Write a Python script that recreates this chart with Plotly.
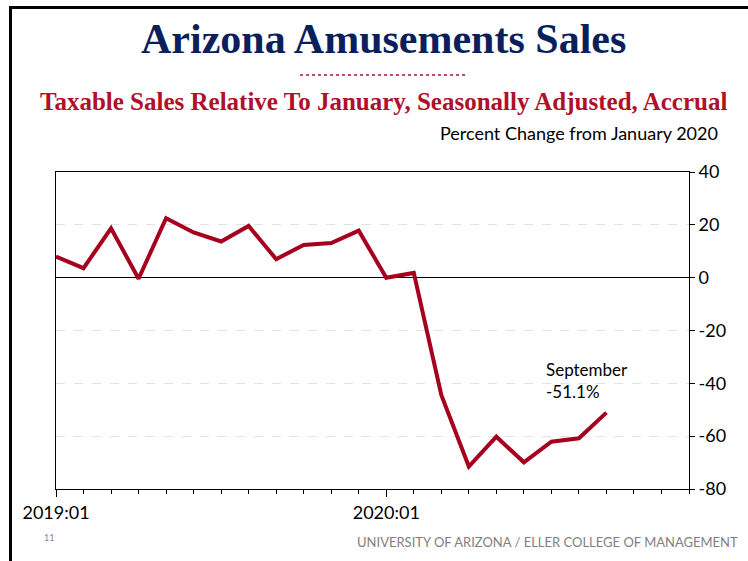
import plotly.graph_objects as go

# ---- data ----
months = ["2019:01", "2019:02", "2019:03", "2019:04", "2019:05", "2019:06",
          "2019:07", "2019:08", "2019:09", "2019:10", "2019:11", "2019:12",
          "2020:01", "2020:02", "2020:03", "2020:04", "2020:05", "2020:06",
          "2020:07", "2020:08", "2020:09"]
pct_change = [8.0, 3.6, 18.7, -0.4, 22.5, 17.1, 13.7, 19.6, 7.0, 12.4, 13.1, 17.8,
              0.0, 1.8, -44.4, -71.5, -60.2, -69.9, -62.1, -60.8, -51.1]
tick_labels = ["2019:01", "2020:01"]
y_ticks = [40, 20, 0, -20, -40, -60, -80]
y_tick_text = ["40", "20", "0", "-20", "-40", "-60", "-80"]

W, H = 748, 561
L, R, T, B = 56, 689, 172, 489  # plot area in pixels


def px(x):
    return (x - L) / (R - L)


def py(y):
    return (B - y) / (B - T)


x_idx = list(range(len(months)))
RED = "#A6001E"

fig = go.Figure()
fig.add_trace(go.Scatter(
    x=x_idx, y=pct_change, mode="lines",
    line=dict(color=RED, width=4),
    hoverinfo="skip", showlegend=False,
))

fig.update_layout(
    width=W, height=H,
    margin=dict(l=L, r=W - R, t=T, b=H - B),
    paper_bgcolor="white", plot_bgcolor="white",
    font=dict(family="Lato", color="black"),
    xaxis=dict(
        range=[0, 23], tickmode="array",
        tickvals=[months.index(t) for t in tick_labels], ticktext=tick_labels,
        ticks="outside", ticklen=7, tickcolor="black", tickwidth=1,
        minor=dict(dtick=1, tick0=0, ticks="outside", ticklen=4,
                   tickcolor="black", showgrid=False),
        showgrid=False, showline=True, linecolor="black", linewidth=1,
        mirror=True, zeroline=False,
        tickfont=dict(family="Lato", size=18, color="black"),
    ),
    yaxis=dict(
        range=[-80, 40], side="right", tickmode="array", tickvals=y_ticks,
        ticktext=y_tick_text,
        ticks="outside", ticklen=5, tickcolor="black",
        showgrid=True, gridcolor="#E2E2E2", griddash="dash", gridwidth=1,
        zeroline=True, zerolinecolor="black", zerolinewidth=1,
        showline=True, linecolor="black", linewidth=1, mirror=True,
        tickfont=dict(family="Lato", size=18, color="black"),
    ),
)

annotations = [
    dict(text="<b>Arizona Amusements Sales</b>", x=px(383), y=py(39),
         font=dict(family="Liberation Serif", size=42, color="#0B1F5C")),
    dict(text="<b>Taxable Sales Relative To January, Seasonally Adjusted, Accrual</b>",
         x=px(384), y=py(101),
         font=dict(family="Liberation Serif", size=25, color="#B0102A")),
    dict(text="Percent Change from January 2020", x=px(720), y=py(133),
         xanchor="right",
         font=dict(family="Lato", size=18, color="black")),
    dict(text="September<br>-51.1%", x=px(544), y=py(357), xanchor="left",
         yanchor="top", align="left",
         font=dict(family="Lato", size=17, color="black")),
    dict(text="11", x=px(42), y=py(537), xanchor="left",
         font=dict(family="Lato", size=9, color="#888888")),
    dict(text="UNIVERSITY OF ARIZONA / ELLER COLLEGE OF MANAGEMENT",
         x=px(740), y=py(542), xanchor="right",
         font=dict(family="Lato", size=13, color="#7F7F7F")),
]
for a in annotations:
    a.setdefault("xanchor", "center")
    a.setdefault("yanchor", "middle")
    fig.add_annotation(xref="paper", yref="paper", showarrow=False, **a)

shapes = [
    # slide frame: top and left
    dict(type="line", x0=px(9), x1=px(748), y0=py(7.5), y1=py(7.5),
         line=dict(color="black", width=3)),
    dict(type="line", x0=px(10.5), x1=px(10.5), y0=py(6), y1=py(561),
         line=dict(color="black", width=3)),
    # dotted separator under title
    dict(type="line", x0=px(300), x1=px(468), y0=py(75), y1=py(75),
         line=dict(color="#B0102A", width=1.5, dash="dot")),
]
for s in shapes:
    fig.add_shape(xref="paper", yref="paper", **s)

fig.write_html(
    "out.html",
    config={"displayModeBar": False},
    post_script="document.body.style.margin='0';document.body.style.overflow='hidden';",
)
